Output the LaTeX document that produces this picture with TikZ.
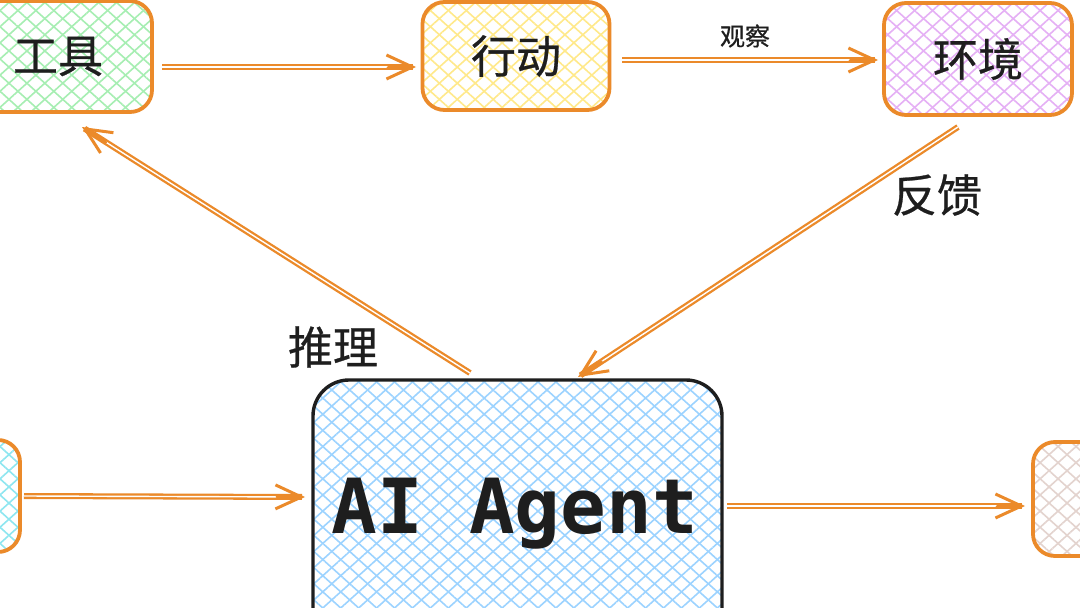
\documentclass[tikz,border=0pt]{standalone}
\usepackage{fontspec}
\newfontfamily\cjk[FakeBold=0.6]{Noto Sans CJK SC}
\newfontfamily\mono{DejaVu Sans Mono}
\usetikzlibrary{arrows.meta,patterns.meta,calc}
\definecolor{stroke}{HTML}{EB8A2A}
\definecolor{ink}{HTML}{1E1E1E}
\definecolor{fgreen}{HTML}{A6EEB2}
\definecolor{fyellow}{HTML}{FFE98A}
\definecolor{fviolet}{HTML}{E5B0F5}
\definecolor{fblue}{HTML}{9CD3FF}
\definecolor{fcyan}{HTML}{8EE6F0}
\definecolor{fbeige}{HTML}{E3D3CE}
\tikzset{
  hatch/.style={
    preaction={pattern={Lines[angle=42,distance=12pt,line width=1.6pt]}, pattern color=#1},
    pattern={Lines[angle=-42,distance=12pt,line width=1.6pt]}, pattern color=#1},
  box/.style={draw=stroke, line width=3.8pt, rounded corners=22pt, inner sep=0pt,
    text=ink, font=\cjk\fontsize{45}{50}\selectfont},
  aibox/.style={draw=ink, line width=3.4pt, rounded corners=36pt, inner sep=0pt},
  lbl/.style={text=ink, inner sep=0pt, font=\cjk\fontsize{45}{50}\selectfont},
  slbl/.style={text=ink, inner sep=0pt, font=\cjk\fontsize{25}{28}\selectfont},
  shaft/.style={draw=stroke, line width=2.3pt, double=white, double distance=1.4pt, shorten >=3pt},
  tipln/.style={draw=stroke, line width=3pt, line cap=round,
    -{Straight Barb[length=26pt,width=24pt,line width=3pt]}},
}
\begin{document}
\begin{tikzpicture}[x=1pt,y=-1pt]
\useasboundingbox (0,0) rectangle (1080,608);
\clip (0,0) rectangle (1080,608);
\fill[white] (0,0) rectangle (1080,608);

% boxes
\node[box, hatch=fgreen, minimum width=188pt, minimum height=111pt] (tools) at (58,56.5) {工具};
\node[box, hatch=fyellow, minimum width=187pt, minimum height=108pt] (act) at (516,56) {行动};
\node[box, hatch=fviolet, minimum width=188pt, minimum height=112pt] (env) at (978,59) {环境};
\node[box, hatch=fcyan, minimum width=170pt, minimum height=112pt] (lbox) at (-65,496) {};
\node[box, hatch=fbeige, minimum width=170pt, minimum height=114pt] (rbox) at (1118,499) {};
\node[aibox, hatch=fblue, minimum width=409pt, minimum height=340pt] (ai) at (517.5,550) {};
\node[text=ink, inner sep=0pt, font=\mono\bfseries\fontsize{76}{80}\selectfont] (aitext) at (515,514) {AI Agent};

% connector end points
\coordinate (a1) at (162,67);  \coordinate (b1) at (416,67);
\coordinate (a2) at (622,60);  \coordinate (b2) at (878,60);
\coordinate (a3) at (958,127); \coordinate (b3) at (578,377);
\coordinate (a4) at (470,373); \coordinate (b4) at (82,127);
\coordinate (a5) at (24,496);  \coordinate (b5) at (305,497);
\coordinate (a6) at (727,506); \coordinate (b6) at (1025,506);

\foreach \i in {1,...,6}{
  \draw[shaft] (a\i) -- (b\i);
  \draw[tipln] ($(b\i)!28pt!(a\i)$) -- (b\i);
}

% labels
\node[slbl] (lobs) at (745,36) {观察};
\node[lbl] (lfb) at (937,195) {反馈};
\node[lbl] (lre) at (333,347) {推理};
\end{tikzpicture}
\end{document}
